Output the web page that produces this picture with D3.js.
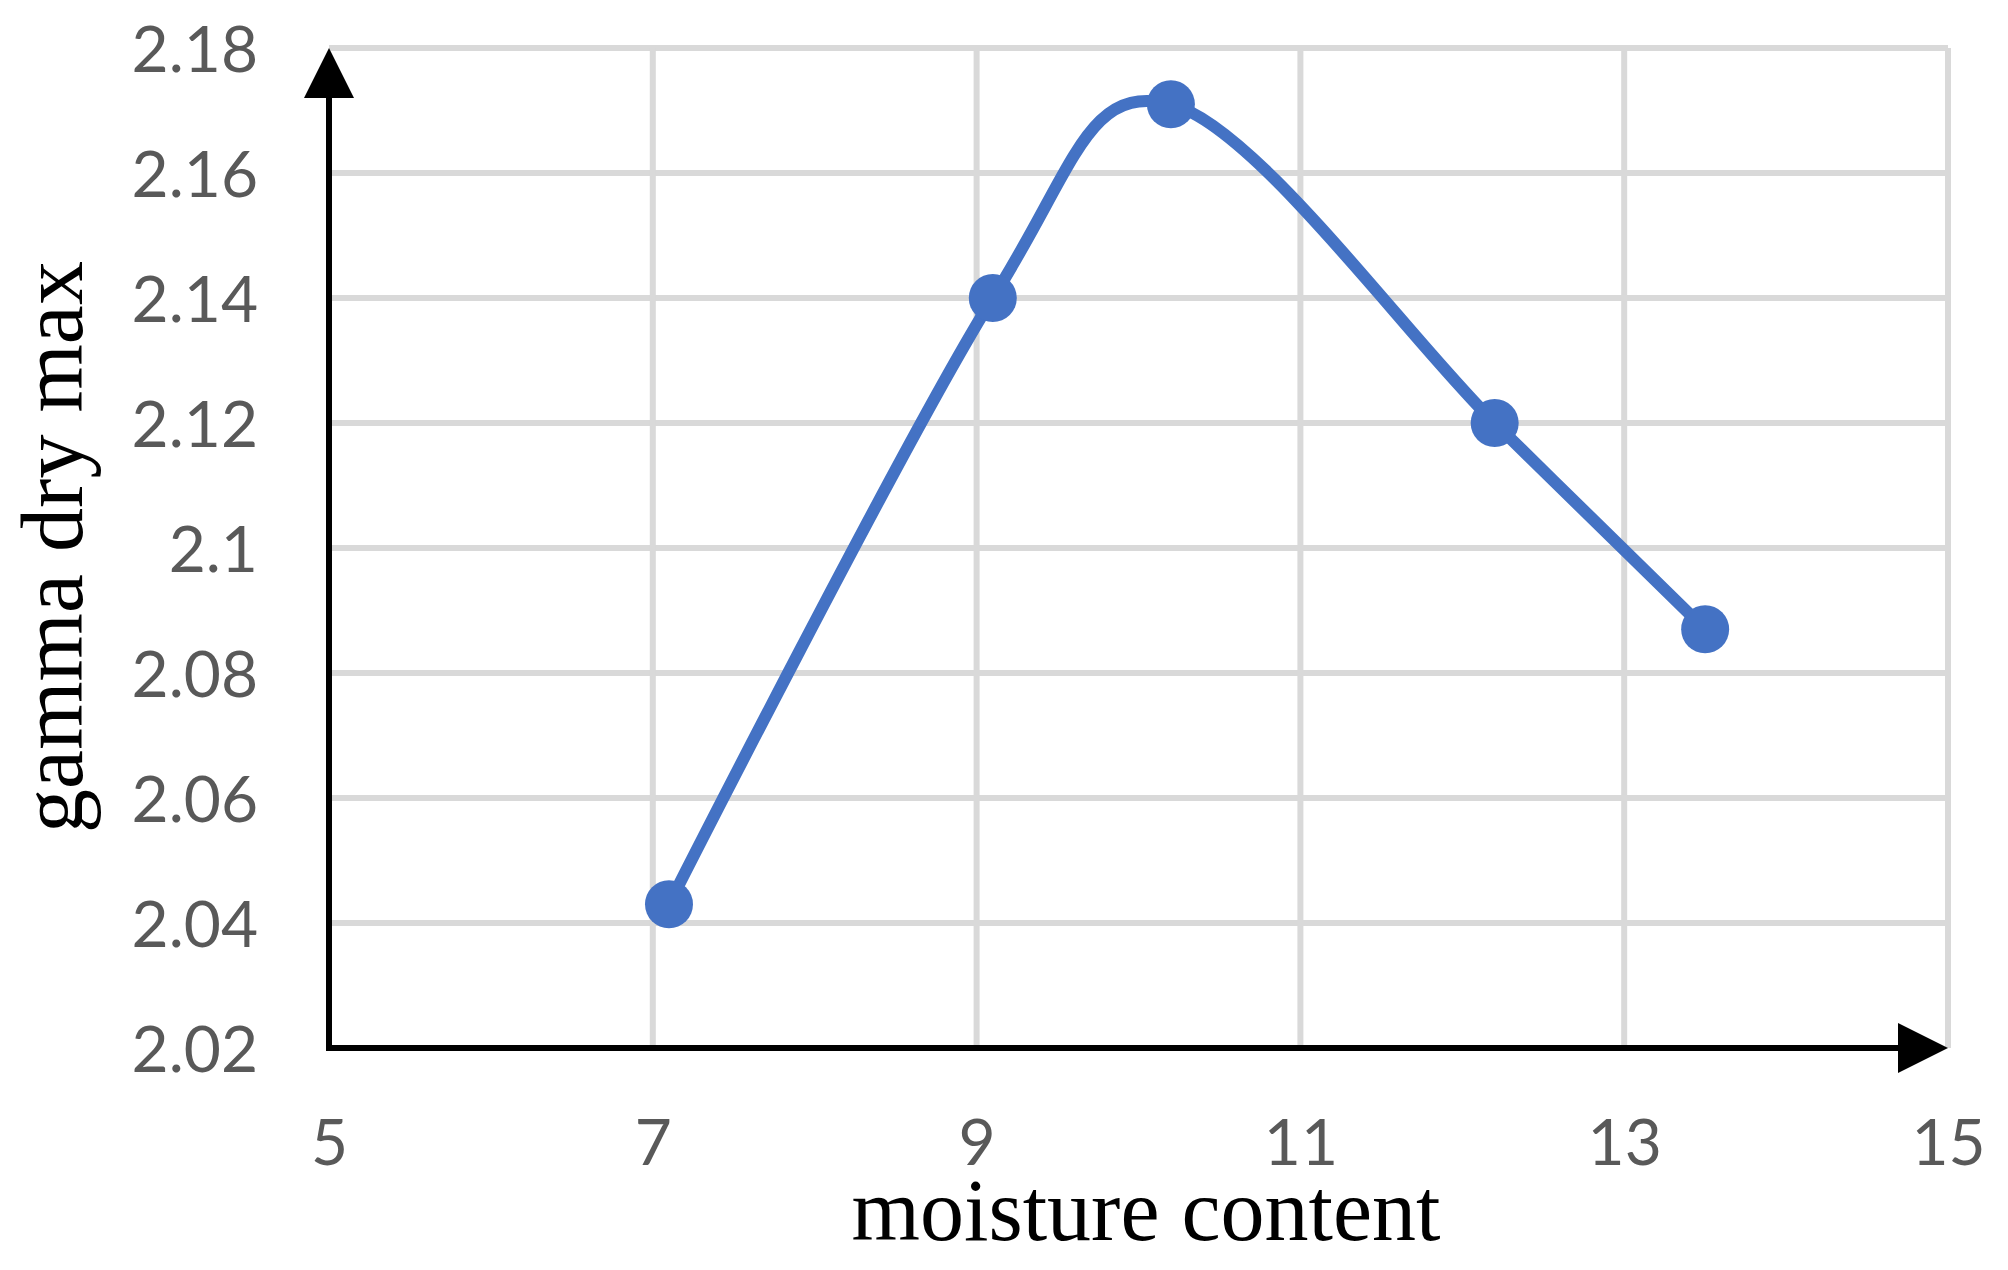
<!DOCTYPE html>
<html>
<head>
<meta charset="utf-8">
<script src="https://cdn.jsdelivr.net/npm/d3@7"></script>
<style>
  html, body { margin: 0; padding: 0; background: #fff; }
</style>
</head>
<body>
<div id="myChart"></div>
<script>
// data
const moisture = [7.1, 9.1, 10.2, 12.2, 13.5];
const gammaDry = [2.043, 2.14, 2.171, 2.12, 2.087];
const xTicks = [5, 7, 9, 11, 13, 15];
const yTicks = [2.02, 2.04, 2.06, 2.08, 2.1, 2.12, 2.14, 2.16, 2.18];
const xTitle = "moisture content";
const yTitle = "gamma dry max";

const margin = { top: 48, right: 60, bottom: 222, left: 329 },
  width = 2008 - margin.left - margin.right,
  height = 1270 - margin.top - margin.bottom;

const svg = d3
  .select("#myChart")
  .append("svg")
  .attr("width", 2008)
  .attr("height", 1270)
  .append("g")
  .attr("transform", "translate(" + margin.left + "," + margin.top + ")");

const x = d3.scaleLinear().domain([5, 15]).range([0, width]);
const y = d3.scaleLinear().domain([2.02, 2.18]).range([height, 0]);

const labelFont = "Lato, 'Open Sans', sans-serif";
const titleFont = "'Liberation Serif', 'Times New Roman', serif";

// grid
svg
  .append("g")
  .attr("class", "grid")
  .selectAll("line.h")
  .data(yTicks.slice(1))
  .enter()
  .append("line")
  .attr("x1", 0)
  .attr("x2", width)
  .attr("y1", (d) => y(d))
  .attr("y2", (d) => y(d))
  .attr("stroke", "#d9d9d9")
  .attr("stroke-width", 6);

svg
  .select(".grid")
  .selectAll("line.v")
  .data(xTicks.slice(1))
  .enter()
  .append("line")
  .attr("x1", (d) => x(d))
  .attr("x2", (d) => x(d))
  .attr("y1", 0)
  .attr("y2", height)
  .attr("stroke", "#d9d9d9")
  .attr("stroke-width", 6);

// tick labels through d3 axes
const fmt = (d) => String(+d.toFixed(2));

const yAxis = svg
  .append("g")
  .call(d3.axisLeft(y).tickValues(yTicks).tickFormat(fmt).tickSize(0).tickPadding(71));
yAxis.select(".domain").remove();
yAxis
  .selectAll("text")
  .attr("dy", "0.36em")
  .style("font-family", labelFont)
  .style("font-size", "64px")
  .attr("fill", "#595959");

const xAxis = svg
  .append("g")
  .attr("transform", "translate(0," + height + ")")
  .call(d3.axisBottom(x).tickValues(xTicks).tickFormat(fmt).tickSize(0).tickPadding(72));
xAxis.select(".domain").remove();
xAxis
  .selectAll("text")
  .style("font-family", labelFont)
  .style("font-size", "64px")
  .attr("fill", "#595959");

// black axes with arrow heads
const ah = 50, aw = 25;
svg
  .append("line")
  .attr("x1", x(5))
  .attr("x2", x(5))
  .attr("y1", y(2.02) + 3)
  .attr("y2", y(2.18) + ah - 2)
  .attr("stroke", "#000")
  .attr("stroke-width", 6);
svg
  .append("path")
  .attr("d", "M" + x(5) + "," + y(2.18) + "L" + (x(5) + aw) + "," + (y(2.18) + ah) + "L" + (x(5) - aw) + "," + (y(2.18) + ah) + "Z")
  .attr("fill", "#000");

svg
  .append("line")
  .attr("x1", x(5) - 3)
  .attr("x2", x(15) - ah + 2)
  .attr("y1", y(2.02))
  .attr("y2", y(2.02))
  .attr("stroke", "#000")
  .attr("stroke-width", 6);
svg
  .append("path")
  .attr("d", "M" + x(15) + "," + y(2.02) + "L" + (x(15) - ah) + "," + (y(2.02) - aw) + "L" + (x(15) - ah) + "," + (y(2.02) + aw) + "Z")
  .attr("fill", "#000");

// smoothed series line
const pts = moisture.map((m, i) => [m, gammaDry[i]]);
const line = d3
  .line()
  .x((d) => x(d[0]))
  .y((d) => y(d[1]))
  .curve(d3.curveCatmullRom.alpha(0));

svg
  .append("path")
  .datum(pts)
  .attr("d", line)
  .attr("fill", "none")
  .attr("stroke", "#4472c4")
  .attr("stroke-width", 12)
  .attr("stroke-linecap", "round");

svg
  .selectAll(".dot")
  .data(pts)
  .enter()
  .append("circle")
  .attr("class", "dot")
  .attr("cx", (d) => x(d[0]))
  .attr("cy", (d) => y(d[1]))
  .attr("r", 24)
  .attr("fill", "#4472c4");

// axis titles
svg
  .append("text")
  .attr("x", 1146 - margin.left)
  .attr("y", 1240 - margin.top)
  .style("text-anchor", "middle")
  .style("font-family", titleFont)
  .style("font-size", "88px")
  .attr("fill", "#000")
  .text(xTitle);

svg
  .append("text")
  .attr("transform", "translate(" + (82 - margin.left) + "," + (547 - margin.top) + ") rotate(-90)")
  .style("text-anchor", "middle")
  .style("font-family", titleFont)
  .style("font-size", "88px")
  .attr("fill", "#000")
  .text(yTitle);
</script>
</body>
</html>
